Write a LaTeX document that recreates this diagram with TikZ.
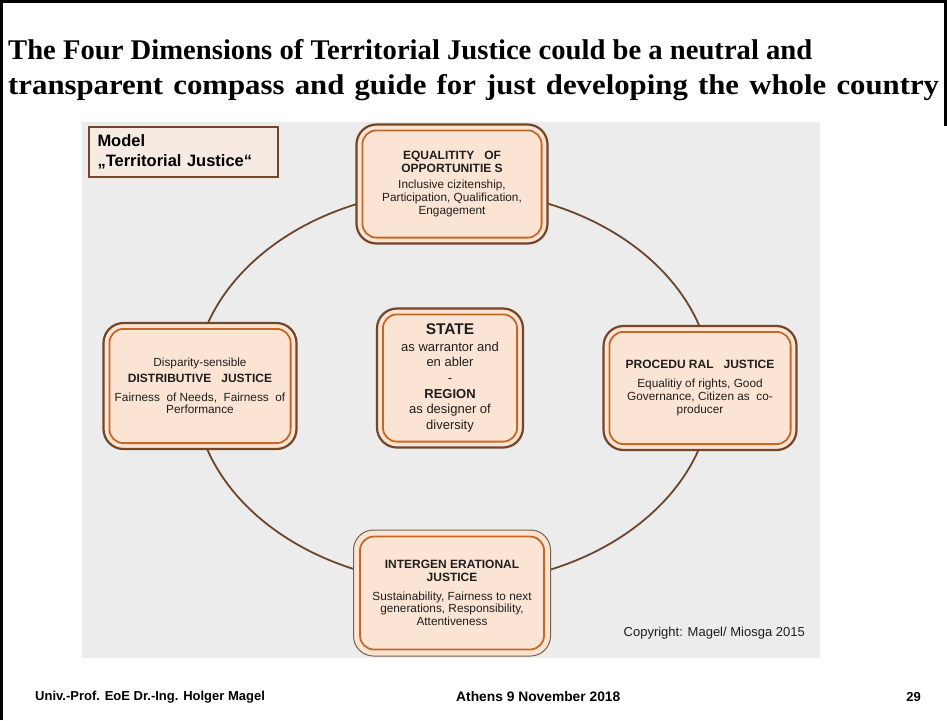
\documentclass[tikz,border=0pt]{standalone}
\usepackage{fontspec}
\setmainfont{Liberation Serif}
\setsansfont{Liberation Sans}
\definecolor{panelgrey}{RGB}{236,236,236}
\definecolor{peach}{RGB}{252,228,212}
\definecolor{outerbrown}{RGB}{115,70,40}
\definecolor{innerorange}{RGB}{196,104,40}
\definecolor{ringbrown}{RGB}{105,70,45}
\definecolor{modelfill}{RGB}{246,234,226}
\definecolor{txt}{RGB}{30,30,30}
\tikzset{
  dimbox/.style={rounded corners=20pt, draw=outerbrown, line width=2.2pt, fill=peach,
    align=center, text=txt, inner sep=0pt,
    font=\sffamily\fontsize{11.8}{12.8}\selectfont},
  innerline/.style={draw=innerorange, line width=1.8pt, rounded corners=14pt},
  modelbox/.style={draw=outerbrown, line width=2.5pt, fill=modelfill, align=left,
    text width=172pt, minimum width=189pt, minimum height=50pt, inner sep=0pt,
    font=\sffamily\bfseries\fontsize{16.5}{20}\selectfont},
  titletext/.style={anchor=west, inner sep=0pt, font=\rmfamily\bfseries\fontsize{28.5}{34}\selectfont},
  foot/.style={inner sep=0pt, font=\sffamily\bfseries\fontsize{13}{15}\selectfont},
  ring/.style={draw=ringbrown, line width=1.8pt}
}
\newcommand{\hdf}{\bfseries\fontsize{12}{14}\selectfont}
\begin{document}
\begin{tikzpicture}[x=1pt,y=-1pt]
\useasboundingbox (0,0) rectangle (947,720);
% slide frame
\draw[line width=3pt] (1.5,720) -- (1.5,1.5) -- (945.5,1.5) -- (945.5,126);
% title
\node[titletext] (t1) at (8,50) {\scalebox{1.005}[1]{The Four Dimensions of Territorial Justice could be a neutral and}};
\node[titletext] (t2) at (8,88) {\scalebox{1.08}[1]{\makebox[862pt][s]{transparent compass and guide for just developing the whole country}}};
% grey panel
\fill[panelgrey] (82,122) rectangle (820,658);
% ring
\coordinate (c) at (453,387);
\draw[ring] (c) ellipse [x radius=259pt, y radius=197pt];
% model label
\node[modelbox] (model) at (183.5,152) {Model\\„Territorial Justice“};
% boxes
\node[dimbox, minimum width=191pt, minimum height=119pt] (equal) at (452,184)
  {{\hdf EQUALITITY\ \ \ OF}\\
   {\hdf OPPORTUNITIE S}\\[4pt]
   Inclusive cizitenship,\\Participation, Qualification,\\Engagement};
\node[dimbox, minimum width=193pt, minimum height=126pt] (distr) at (200,386)
  {Disparity-sensible\\[3pt]
   {\hdf DISTRIBUTIVE\ \ \ JUSTICE}\\[6pt]
   Fairness \ of Needs, \ Fairness \ of\\Performance};
\node[dimbox, minimum width=193pt, minimum height=124pt] (proc) at (700,388)
  {{\hdf PROCEDU RAL\ \ \ JUSTICE}\\[6pt]
   Equalitiy of rights, Good\\Governance, Citizen as \ co-\\producer};
\node[dimbox, draw=outerbrown!55!gray, line width=1pt, minimum width=197pt, minimum height=126pt] (inter) at (452,593)
  {{\hdf INTERGEN ERATIONAL}\\
   {\hdf JUSTICE}\\[6pt]
   Sustainability, Fairness to next\\generations, Responsibility,\\Attentiveness};
\node[dimbox, font=\sffamily\fontsize{13}{15.6}\selectfont, minimum width=146pt, minimum height=139pt] (state) at (450,378)
  {{\bfseries\fontsize{15.5}{17}\selectfont STATE}\\[1pt]
   as warrantor and\\
   en abler\\
   -\\
   {\bfseries REGION}\\
   as designer of\\
   diversity};
% inner borders
\foreach \n in {equal,distr,proc,inter,state}
  \draw[innerline] ([shift={(7pt,-7pt)}]\n.north west) rectangle ([shift={(-7pt,7pt)}]\n.south east);
% copyright
\node[inner sep=0pt, anchor=east, text=txt, font=\sffamily\fontsize{13}{15}\selectfont] (copy) at (805,633)
  {Copyright: Magel/ Miosga 2015};
% footer
\node[foot, anchor=west] (f1) at (35,697) {Univ.-Prof. EoE Dr.-Ing. Holger Magel};
\node[foot, anchor=west, font=\sffamily\bfseries\fontsize{13.8}{15}\selectfont] (f2) at (456,697) {Athens 9 November 2018};
\node[foot, anchor=east] (f3) at (921,697) {29};
\end{tikzpicture}
\end{document}
